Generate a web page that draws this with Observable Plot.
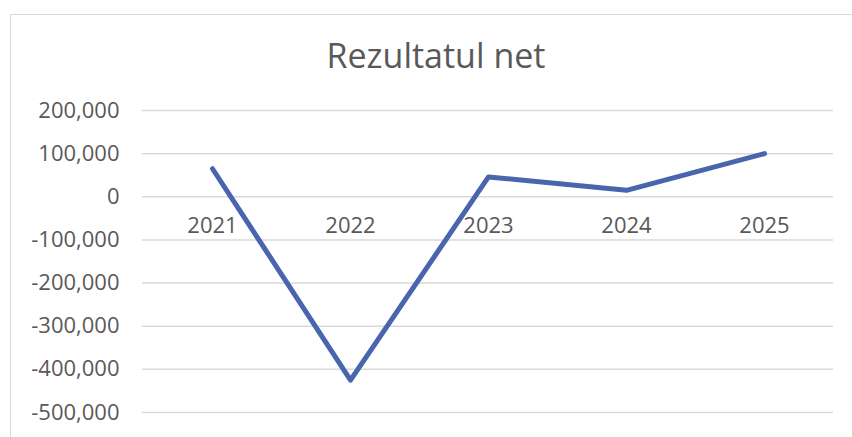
<!DOCTYPE html>
<html>
<head>
<meta charset="utf-8">
<script src="https://cdn.jsdelivr.net/npm/d3@7"></script>
<script src="https://cdn.jsdelivr.net/npm/@observablehq/plot@0.6"></script>
<style>
  html, body { margin: 0; padding: 0; background: #ffffff; width: 852px; height: 437px; overflow: hidden; }
  #frame { position: absolute; left: 10px; top: 14px; width: 900px; height: 500px;
           border-left: 1.5px solid #d9d9d9; border-top: 1.5px solid #d9d9d9; box-sizing: border-box; }
  #title { position: absolute; left: 0; top: 38px; width: 872px; text-align: center;
           font-family: "Open Sans", sans-serif; font-size: 34px; line-height: 34px; color: #595959; }
  #chart { position: absolute; left: 0; top: 90px; }
</style>
</head>
<body>
<div id="frame"></div>
<div id="title">Rezultatul net</div>
<div id="chart"></div>
<script>
const years = ["2021", "2022", "2023", "2024", "2025"];
const values = [65000, -425000, 46000, 15000, 100000];
const yTicks = [200000, 100000, 0, -100000, -200000, -300000, -400000, -500000];

const data = years.map((year, i) => ({year, value: values[i]}));
const fmt = d3.formatLocale({decimal: ".", thousands: ",", grouping: [3], currency: ["$", ""], minus: "-"}).format(",");

const chart = Plot.plot({
  width: 852,
  height: 347,
  marginLeft: 142,
  marginRight: 19,
  marginTop: 20,
  marginBottom: 25,
  style: {fontFamily: "Open Sans, sans-serif", fontSize: "22px", color: "#595959", background: "transparent", overflow: "visible"},
  x: {type: "point", domain: years, padding: 0.5, axis: null},
  y: {domain: [-500000, 200000], axis: null},
  marks: [
    Plot.ruleY(yTicks, {stroke: "#d9d9d9", strokeWidth: 1.5}),
    Plot.axisY({ticks: yTicks, tickFormat: fmt, tickSize: 0, tickPadding: 23, label: null, fill: "#595959"}),
    Plot.text(years, {x: d => d, y: () => 0, dy: 29, text: d => d, fill: "#595959", fontSize: 22}),
    Plot.line(data, {x: "year", y: "value", stroke: "#4865AD", strokeWidth: 5, strokeLinejoin: "round", strokeLinecap: "round"})
  ]
});
document.getElementById("chart").appendChild(chart);
</script>
</body>
</html>
